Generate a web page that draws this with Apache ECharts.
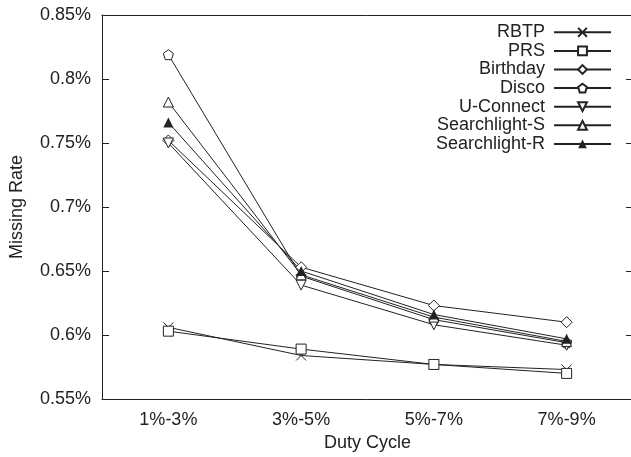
<!DOCTYPE html>
<html>
<head>
<meta charset="utf-8">
<script src="https://cdn.jsdelivr.net/npm/echarts@6/dist/echarts.min.js"></script>
<style>
  html, body { margin: 0; padding: 0; background: #fff; }
  #main { width: 631px; height: 457px; }
</style>
</head>
<body>
<div id="main"></div>
<script>
var categories = ['1%-3%', '3%-5%', '5%-7%', '7%-9%'];
var seriesNames = ['RBTP', 'PRS', 'Birthday', 'Disco', 'U-Connect', 'Searchlight-S', 'Searchlight-R'];
var rbtp = [0.606, 0.584, 0.577, 0.573];
var prs = [0.603, 0.589, 0.577, 0.570];
var birthday = [0.752, 0.653, 0.623, 0.610];
var disco = [0.819, 0.646, 0.612, 0.594];
var uConnect = [0.750, 0.639, 0.608, 0.592];
var searchlightS = [0.782, 0.647, 0.614, 0.595];
var searchlightR = [0.766, 0.650, 0.616, 0.597];

var allData = [rbtp, prs, birthday, disco, uConnect, searchlightS, searchlightR];
// gnuplot-like point types, thin outlines
var symbols = [
  'path://M0,0L10,10M10,0L0,10',
  'path://M0,0L10,0L10,10L0,10Z',
  'path://M5,0L10,5L5,10L0,5Z',
  'path://M5,0L10,3.8L8.1,10L1.9,10L0,3.8Z',
  'path://M0,0L10,0L5,9Z',
  'path://M5,0L10,9L0,9Z',
  'triangle'
];
var sizes = [10, 10, 11, 10, 10, 10, 10];

var font = 'Liberation Sans, Arial, sans-serif';
var ink = '#222';

var myChart = echarts.init(document.getElementById('main'), null, { renderer: 'canvas' });

var series = seriesNames.map(function (name, i) {
  var filled = symbols[i] === 'triangle';
  return {
    name: name,
    type: 'line',
    data: allData[i],
    symbol: symbols[i],
    symbolSize: sizes[i],
    showAllSymbol: true,
    lineStyle: { color: ink, width: 1 },
    itemStyle: {
      color: filled ? ink : '#fff',
      borderColor: ink,
      borderWidth: filled ? 0 : 1
    },
    emphasis: { disabled: true },
    z: 2
  };
});

var option = {
  animation: false,
  backgroundColor: '#fff',
  grid: { left: 102, right: -2, top: 15, bottom: 58, outerBoundsMode: 'none', containLabel: false },
  legend: {
    orient: 'vertical',
    right: 19,
    top: 23,
    padding: 0,
    align: 'right',
    itemWidth: 57,
    itemHeight: 11,
    itemGap: 0,
    data: seriesNames,
    textStyle: { fontFamily: font, fontSize: 18, lineHeight: 18.6, color: ink, padding: [0, 4, 0, 0] },
    selectedMode: false
  },
  xAxis: [
    {
      type: 'category',
      data: categories,
      boundaryGap: true,
      name: 'Duty Cycle',
      nameLocation: 'middle',
      nameGap: 35,
      nameTextStyle: { fontFamily: font, fontSize: 18, color: ink },
      axisLine: { lineStyle: { color: ink, width: 1 } },
      axisTick: { inside: true, alignWithLabel: true, length: 7, lineStyle: { color: ink } },
      axisLabel: { fontFamily: font, fontSize: 18, color: ink, margin: 12 },
      splitLine: { show: false }
    },
    {
      type: 'category',
      data: categories,
      position: 'top',
      boundaryGap: true,
      axisLine: { lineStyle: { color: ink, width: 1 } },
      axisTick: { inside: true, alignWithLabel: true, length: 7, lineStyle: { color: ink } },
      axisLabel: { show: false },
      splitLine: { show: false }
    }
  ],
  yAxis: [
    {
      type: 'value',
      min: 0.55,
      max: 0.85,
      interval: 0.05,
      name: 'Missing Rate',
      nameLocation: 'middle',
      nameGap: 76,
      nameTextStyle: { fontFamily: font, fontSize: 18, color: ink },
      axisLine: { show: true, lineStyle: { color: ink, width: 1 } },
      axisTick: { show: true, inside: true, length: 7, lineStyle: { color: ink } },
      axisLabel: {
        fontFamily: font, fontSize: 18, color: ink, margin: 11,
        formatter: function (v) { return (+v.toFixed(2)) + '%'; }
      },
      splitLine: { show: false }
    },
    {
      type: 'value',
      position: 'right',
      min: 0.55,
      max: 0.85,
      interval: 0.05,
      axisLine: { show: true, lineStyle: { color: ink, width: 1 } },
      axisTick: { show: true, inside: true, length: 7, lineStyle: { color: ink } },
      axisLabel: { show: false },
      splitLine: { show: false }
    }
  ],
  series: series
};

myChart.setOption(option);
</script>
</body>
</html>
